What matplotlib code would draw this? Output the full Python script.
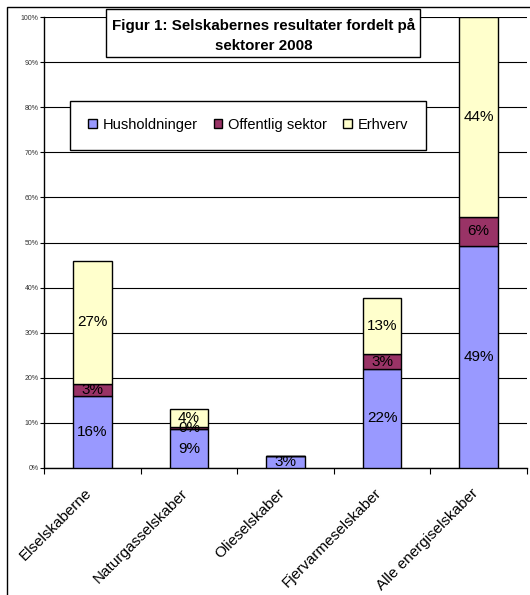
import numpy as np
import matplotlib.pyplot as plt
from matplotlib.patches import Rectangle
from matplotlib.transforms import ScaledTranslation

plt.rcParams['font.family'] = ['Liberation Sans', 'DejaVu Sans']

categories = ['Elselskaberne', 'Naturgasselskaber', 'Olieselskaber',
              'Fjervarmeselskaber', 'Alle energiselskaber']
husholdninger = [15.9, 8.6, 2.6, 22.0, 49.3]
offentlig = [2.7, 0.4, 0.15, 3.2, 6.3]
erhverv = [27.4, 4.1, 0.0, 12.6, 44.4]
series_names = ['Husholdninger', 'Offentlig sektor', 'Erhverv']
colors = ['#9999FF', '#993366', '#FFFFCC']
yticks = [0, 10, 20, 30, 40, 50, 60, 70, 80, 90, 100]

W, H = 530, 595
fig = plt.figure(figsize=(W/100, H/100), dpi=100)
ax = fig.add_axes([44/W, 1-468/H, 483/W, 451/H])

x = np.arange(len(categories))
bottom = np.zeros(len(categories))
for vals, name, col in zip([husholdninger, offentlig, erhverv], series_names, colors):
    vals = np.array(vals)
    ax.bar(x, vals, 0.4, bottom=bottom, color=col, edgecolor='black',
           linewidth=1, label=name, zorder=3)
    for xi, b, v in zip(x, bottom, vals):
        if v >= 0.3:
            ax.text(xi, b + v/2, f"{v:.0f}%", ha='center', va='center',
                    fontsize=11, zorder=4)
    bottom += vals

ax.set_xlim(-0.5, len(categories)-0.5)
ax.set_ylim(0, 100)
ax.set_yticks(yticks)
ax.set_yticklabels([f"{t}%" for t in yticks], fontsize=5, color='#333333')
ax.yaxis.grid(True, color='black', linewidth=0.8, zorder=0)
ax.set_axisbelow(True)
ax.tick_params(axis='y', length=3, width=0.8, pad=1)

ax.set_xticks(np.arange(len(categories)+1) - 0.5, minor=False)
ax.set_xticklabels([])
ax.set_xticks(x, minor=True)
ax.set_xticklabels(categories, minor=True, rotation=45, ha='right',
                   va='top', rotation_mode='anchor', fontsize=11)
ax.tick_params(axis='x', which='major', length=4, width=0.8, direction='out')
ax.tick_params(axis='x', which='minor', length=0, pad=13)
shift = ScaledTranslation(-8/100, 0, fig.dpi_scale_trans)
for lab in ax.get_xticklabels(minor=True):
    lab.set_transform(lab.get_transform() + shift)

for s in ['top', 'right']:
    ax.spines[s].set_visible(False)
for s in ['left', 'bottom']:
    ax.spines[s].set_linewidth(1)

# outer frame
fig.patches.append(Rectangle((6.5/W, -0.1), 2, 1 - 7.5/H + 0.1, fill=False,
                             edgecolor='black', linewidth=1,
                             transform=fig.transFigure, figure=fig))

# title box
fig.patches.append(Rectangle((106/W, 1-57/H), 314/W, 48/H, facecolor='white',
                             edgecolor='black', linewidth=1,
                             transform=fig.transFigure, figure=fig, zorder=5))
fig.text(264/W, 1-35/H, 'Figur 1: Selskabernes resultater fordelt på\nsektorer 2008',
         ha='center', va='center', fontsize=10.9, fontweight='bold',
         linespacing=1.55, zorder=6)

leg = ax.legend(ncol=3, loc='center', bbox_to_anchor=(248/W, 1-125/H),
                bbox_transform=fig.transFigure, fontsize=10.5, frameon=True,
                fancybox=False, edgecolor='black', framealpha=1,
                handlelength=0.6, handleheight=0.6, handletextpad=0.4,
                columnspacing=1.1, borderpad=1.2)
leg.get_frame().set_linewidth(1)

fig.savefig('out.png', dpi=100)
